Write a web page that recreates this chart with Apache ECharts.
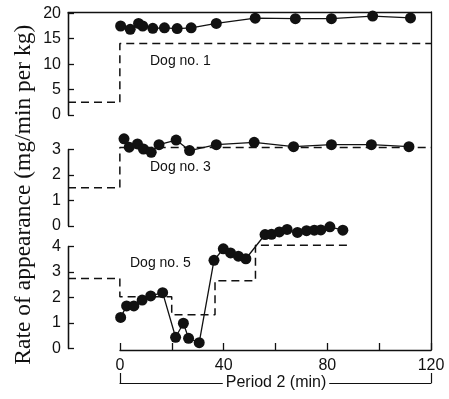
<!DOCTYPE html>
<html>
<head>
<meta charset="utf-8">
<script src="https://cdn.jsdelivr.net/npm/echarts@6/dist/echarts.min.js"></script>
<style>html,body{margin:0;padding:0;background:#fff;}#c{width:449px;height:399px;}</style>
</head>
<body>
<div id="c"></div>
<script>
// ---- data (time in min, rate in mg/min per kg) ----
const dog1Time = [0.3, 4, 7.2, 8.8, 12.7, 17.2, 22.1, 27.5, 37.2, 52.2, 67.7, 81.6, 97.5, 112.1];
const dog1Rate = [17.5, 16.85, 18.0, 17.5, 17.05, 17.15, 17.0, 17.15, 18.0, 19.05, 18.95, 18.95, 19.45, 19.1];
const dog1InfTime = [-20, 0, 120];
const dog1InfRate = [2.5, 14.05, 14.05];

const dog3Time = [1.6, 3.6, 6.8, 9.1, 12.1, 15.1, 21.7, 26.9, 37.2, 51.8, 67, 81.6, 97, 111.5];
const dog3Rate = [3.42, 3.09, 3.22, 3.02, 2.89, 3.19, 3.37, 2.96, 3.19, 3.28, 3.11, 3.19, 3.19, 3.11];
const dog3InfTime = [-20, 0, 120];
const dog3InfRate = [1.5, 3.08, 3.08];

const dog5Time = [0.3, 2.6, 5.4, 8.6, 11.9, 16.5, 21.5, 24.5, 26.5, 30.6, 36.3, 39.9, 42.7, 45.7, 48.6, 56, 58.5, 61.5, 64.5, 68.5, 72, 75, 77.5, 81, 86];
const dog5Rate = [1.22, 1.67, 1.67, 1.9, 2.06, 2.19, 0.44, 0.99, 0.4, 0.23, 3.46, 3.91, 3.75, 3.62, 3.52, 4.47, 4.48, 4.57, 4.67, 4.55, 4.62, 4.64, 4.65, 4.77, 4.64];
const dog5InfTime = [-20, 0, 20, 36.7, 52.3, 89];
const dog5InfRate = [2.75, 2.03, 1.32, 2.66, 4.05, 4.05];

const xTicks = [0, 20, 40, 60, 80, 100, 120];
const xStart = -20;
const panelYMax = [20, 3, 4];
const panelYStep = [5, 1, 1];
const panelNames = ['Dog no. 1', 'Dog no. 3', 'Dog no. 5'];
const yTitle = 'Rate of appearance (mg/min per kg)';
const xTitle = 'Period 2 (min)';

const zip = (a, b) => a.map((v, i) => [v, b[i]]);
const INK = '#111';
const SANS = '"Liberation Sans", Arial, Helvetica, sans-serif';

const chart = echarts.init(document.getElementById('c'), null, {renderer: 'canvas'});

const panelTop = [13.3, 149.5, 246.5];
const panelH = [101.7, 76.5, 102];

function emptyAxis(gi, min, max) {
  return {gridIndex: gi, type: 'value', min: min, max: max, show: true,
          axisLine: {show: false, onZero: false}, axisTick: {show: false},
          axisLabel: {show: false}, splitLine: {show: false}};
}
function leftAxisY(gi, max, interval) {
  return {
    gridIndex: gi, type: 'value', position: 'right', min: 0, max: max, interval: interval, z: 20,
    splitLine: {show: false},
    axisLine: {show: true, onZero: false, lineStyle: {color: INK, width: 1.3}},
    axisTick: {show: true, inside: false, length: 6, lineStyle: {color: INK, width: 1.3}},
    axisLabel: {show: true, inside: true, color: INK, fontSize: 16, fontFamily: SANS, margin: 7}
  };
}
const dots = (gi, t, r) => ({
  type: 'line', xAxisIndex: gi, yAxisIndex: gi, data: zip(t, r), clip: false,
  symbol: 'circle', symbolSize: 11, showSymbol: true,
  itemStyle: {color: INK}, lineStyle: {color: INK, width: 1.3}, z: 3
});
const steps = (gi, t, r) => ({
  type: 'line', xAxisIndex: gi, yAxisIndex: gi, data: zip(t, r), clip: false,
  step: 'end', symbol: 'none',
  lineStyle: {color: INK, width: 1.5, type: [8, 5]}, z: 2,
  // panel's left axis line (from 0 to the panel's top value at the left edge of the time range)
  markLine: {silent: true, symbol: 'none', label: {show: false}, animation: false,
             lineStyle: {color: INK, width: 1.3, type: 'solid'},
             data: [[{coord: [xStart, 0]}, {coord: [xStart, panelYMax[gi]]}]]}
});

const grids = [];
for (let i = 0; i < 3; i++) grids.push({left: 68, right: 18, top: panelTop[i], height: panelH[i]});
grids.push({left: 68, right: 18, top: 12, height: 338});   // 3: frame (top + right lines)
grids.push({left: 120, right: 18, top: 12, height: 338});  // 4: time axis
grids.push({left: 120, right: 18, top: 12, height: 371});  // 5: period bracket
for (let i = 0; i < 3; i++) grids.push({left: 0, right: 381, top: panelTop[i], height: panelH[i]}); // 6-8

chart.setOption({
  animation: false,
  backgroundColor: '#fff',
  grid: grids,
  xAxis: [
    emptyAxis(0, xStart, 120), emptyAxis(1, xStart, 120), emptyAxis(2, xStart, 120),
    {gridIndex: 3, type: 'value', position: 'top', min: 0, max: 1, z: 20,
     axisLine: {show: true, onZero: false, lineStyle: {color: INK, width: 1.3}},
     axisTick: {show: false}, axisLabel: {show: false}, splitLine: {show: false}},
    {gridIndex: 4, type: 'value', position: 'bottom', min: xTicks[0], max: xTicks[xTicks.length - 1], interval: 20,
     axisLine: {show: true, onZero: false, lineStyle: {color: INK, width: 1.3}},
     axisTick: {show: true, inside: true, length: 7, lineStyle: {color: INK, width: 1.3}},
     axisLabel: {show: true, interval: 1, color: INK, fontSize: 16, fontFamily: SANS, margin: 8,
                 formatter: v => (v % 40 === 0 ? String(v) : '')},
     splitLine: {show: false}},
    {gridIndex: 5, type: 'value', position: 'bottom', min: 0, max: 120, interval: 120,
     axisLine: {show: true, onZero: false, lineStyle: {color: INK, width: 1.2}},
     axisTick: {show: true, inside: true, length: 10, lineStyle: {color: INK, width: 1.2}},
     axisLabel: {show: false}, splitLine: {show: false}},
    emptyAxis(6, 0, 1), emptyAxis(7, 0, 1), emptyAxis(8, 0, 1)
  ],
  yAxis: [
    emptyAxis(0, 0, panelYMax[0]), emptyAxis(1, 0, panelYMax[1]), emptyAxis(2, 0, panelYMax[2]),
    {gridIndex: 3, type: 'value', position: 'right', min: 0, max: 1, z: 20,
     axisLine: {show: true, onZero: false, lineStyle: {color: INK, width: 1.3}},
     axisTick: {show: false}, axisLabel: {show: false}, splitLine: {show: false}},
    emptyAxis(4, 0, 1), emptyAxis(5, 0, 1),
    leftAxisY(6, panelYMax[0], panelYStep[0]),
    leftAxisY(7, panelYMax[1], panelYStep[1]),
    leftAxisY(8, panelYMax[2], panelYStep[2])
  ],
  graphic: [
    {type: 'text', x: 24, y: 194.7, rotation: Math.PI / 2,
     style: {text: yTitle, fill: INK, font: '23.5px "Liberation Serif", "Times New Roman", serif',
             textAlign: 'center', textVerticalAlign: 'middle'}},
    {type: 'text', x: 150, y: 61, style: {text: panelNames[0], fill: INK, font: '14px ' + SANS, textVerticalAlign: 'middle'}},
    {type: 'text', x: 150, y: 167, style: {text: panelNames[1], fill: INK, font: '14px ' + SANS, textVerticalAlign: 'middle'}},
    {type: 'text', x: 130, y: 263.5, style: {text: panelNames[2], fill: INK, font: '14px ' + SANS, textVerticalAlign: 'middle'}},
    {type: 'text', x: 276, y: 383, z: 100,
     style: {text: xTitle, fill: INK, font: '16px ' + SANS, textAlign: 'center', textVerticalAlign: 'middle',
             backgroundColor: '#fff', padding: [0, 3]}}
  ],
  series: [
    steps(0, dog1InfTime, dog1InfRate), dots(0, dog1Time, dog1Rate),
    steps(1, dog3InfTime, dog3InfRate), dots(1, dog3Time, dog3Rate),
    steps(2, dog5InfTime, dog5InfRate), dots(2, dog5Time, dog5Rate)
  ]
});
</script>
</body>
</html>
